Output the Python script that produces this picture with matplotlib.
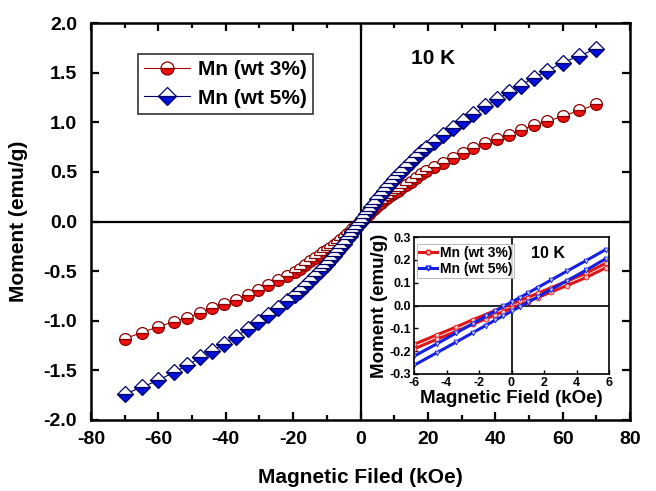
import numpy as np
import matplotlib
matplotlib.use("Agg")
import matplotlib.pyplot as plt
from matplotlib.ticker import MultipleLocator, FormatStrFormatter

plt.rcParams['font.family'] = ['Liberation Sans', 'DejaVu Sans']
plt.rcParams['font.weight'] = 'bold'
plt.rcParams['axes.unicode_minus'] = False

# main M-H curves at 10 K (field in kOe, moment in emu/g), positive half
h_pos = [0, 0.8, 1.6, 2.4, 3.2, 4, 5, 6, 7, 8, 9, 10, 11, 12, 13.5, 15,
         16.5, 18, 19.5, 21.8, 24.5, 27.4, 30.4, 33.4, 37, 40.5, 44, 47.5,
         51.5, 55.5, 60, 65, 70]
m_mn3 = [0, 0.03, 0.055, 0.08, 0.105, 0.13, 0.16, 0.19, 0.215, 0.24, 0.265,
         0.29, 0.31, 0.335, 0.37, 0.40, 0.44, 0.475, 0.505, 0.55, 0.59, 0.64,
         0.69, 0.74, 0.79, 0.83, 0.87, 0.92, 0.97, 1.01, 1.06, 1.12, 1.18]
m_mn5 = [0, 0.04, 0.075, 0.11, 0.145, 0.18, 0.225, 0.265, 0.31, 0.35, 0.39,
         0.43, 0.465, 0.50, 0.55, 0.60, 0.65, 0.70, 0.74, 0.80, 0.87, 0.94,
         1.01, 1.08, 1.16, 1.23, 1.30, 1.37, 1.45, 1.52, 1.60, 1.67, 1.74]

h_main = [-v for v in h_pos[::-1]] + h_pos[1:]
m3_main = [-v for v in m_mn3[::-1]] + m_mn3[1:]
m5_main = [-v for v in m_mn5[::-1]] + m_mn5[1:]

# inset low-field loops (two branches each)
h_low = [-6, -4.6, -3.4, -2.4, -1.6, -1, -0.5, 0, 0.5, 1, 1.6, 2.4, 3.4, 4.6, 5.8]
m3_up = [-0.170, -0.129, -0.094, -0.063, -0.040, -0.022, -0.008, 0.007,
         0.021, 0.035, 0.053, 0.077, 0.106, 0.142, 0.185]
m3_dn = [-0.190, -0.148, -0.113, -0.083, -0.059, -0.041, -0.027, -0.012,
         0.002, 0.017, 0.034, 0.058, 0.087, 0.123, 0.165]
m5_up = [-0.222, -0.168, -0.120, -0.080, -0.048, -0.024, -0.004, 0.015,
         0.034, 0.054, 0.078, 0.110, 0.150, 0.197, 0.245]
m5_dn = [-0.262, -0.207, -0.160, -0.120, -0.088, -0.064, -0.045, -0.025,
         -0.006, 0.014, 0.037, 0.069, 0.108, 0.155, 0.205]

labels = ['Mn (wt 3%)', 'Mn (wt 5%)']

fig = plt.figure(figsize=(6.56, 4.91), dpi=100)
ax = fig.add_axes([91/656, 1-420/491, 539/656, 397/491])

ax.axhline(0, color='black', lw=1.6, zorder=1)
ax.axvline(0, color='black', lw=1.6, zorder=1)

ax.plot(h_main, m3_main, '-', color='#aa0000', lw=0.8, marker='o', ms=8.5,
        mfc='#ee1111', mfcalt='white', fillstyle='bottom', mec='#880000',
        mew=0.9, label=labels[0], zorder=3)
ax.plot(h_main, m5_main, '-', color='#000066', lw=0.8, marker='D', ms=8,
        mfc='#0010dd', mfcalt='white', fillstyle='bottom', mec='#000066',
        mew=0.9, label=labels[1], zorder=3)

ax.set_xlim(-80, 80)
ax.set_ylim(-2.0, 2.0)
ax.xaxis.set_major_locator(MultipleLocator(20))
ax.xaxis.set_minor_locator(MultipleLocator(10))
ax.yaxis.set_major_locator(MultipleLocator(0.5))
ax.yaxis.set_major_formatter(FormatStrFormatter('%.1f'))
ax.tick_params(which='both', direction='in', top=True, right=True, width=1.6)
ax.tick_params(which='major', length=6, labelsize=14)
ax.tick_params(axis='x', which='major', pad=8)
ax.tick_params(axis='y', which='major', pad=10)
ax.tick_params(which='minor', length=3.5)
for s in ax.spines.values():
    s.set_linewidth(1.8)
ax.set_xlabel('Magnetic Filed (kOe)', fontsize=15, fontweight='bold', labelpad=14)
ax.set_ylabel('Moment (emu/g)', fontsize=15, fontweight='bold', labelpad=11)

leg = ax.legend(loc='upper left', bbox_to_anchor=(0.087, 0.922), fontsize=15,
                frameon=True, fancybox=False, edgecolor='black',
                handlelength=2.2, borderpad=0.3, labelspacing=0.45,
                handletextpad=0.4, borderaxespad=0, markerscale=1.1)
leg.get_frame().set_linewidth(1.2)
ax.text(0.593, 0.91, '10 K', transform=ax.transAxes, fontsize=15,
        fontweight='bold', ha='left', va='center')

# inset
ins = fig.add_axes([414/656, 1-374/491, 195/656, 137/491])
ins.axhline(0, color='black', lw=1.2, zorder=1)
ins.axvline(0, color='black', lw=1.2, zorder=1)
for m in (m3_up, m3_dn):
    ins.plot(h_low, m, '-', color='#e01515', lw=2.2, marker='o', ms=3.5,
             mfc='#f4c0c0', mec='#e01515', mew=0.6)
for m in (m5_up, m5_dn):
    ins.plot(h_low, m, '-', color='#1520e0', lw=2.2, marker='v', ms=3.5,
             mfc='#c8c8f4', mec='#1520e0', mew=0.6)
ins.plot([], [], '-', color='#e01515', lw=2.2, marker='o', ms=3.5,
         mfc='#f4c0c0', mec='#e01515', label=labels[0])
ins.plot([], [], '-', color='#1520e0', lw=2.2, marker='v', ms=3.5,
         mfc='#c8c8f4', mec='#1520e0', label=labels[1])
ins.set_xlim(-6, 6)
ins.set_ylim(-0.3, 0.3)
ins.xaxis.set_major_locator(MultipleLocator(2))
ins.yaxis.set_major_locator(MultipleLocator(0.1))
ins.yaxis.set_major_formatter(FormatStrFormatter('%.1f'))
ins.tick_params(direction='in', length=3, width=1, labelsize=9, pad=2)
for s in ins.spines.values():
    s.set_linewidth(1.2)
ins.set_xlabel('Magnetic Field (kOe)', fontsize=13.5, fontweight='bold', labelpad=1)
ins.set_ylabel('Moment (emu/g)', fontsize=13.5, fontweight='bold', labelpad=1)
il = ins.legend(loc='upper left', bbox_to_anchor=(0.015, 0.95), fontsize=10,
                frameon=True, fancybox=False, edgecolor='#999999',
                handlelength=1.3, borderpad=0.15, labelspacing=0.15,
                handletextpad=0.2, borderaxespad=0)
il.get_frame().set_linewidth(0.6)
ins.text(0.6, 0.88, '10 K', transform=ins.transAxes, fontsize=11.5,
         fontweight='bold', ha='left', va='center')

fig.savefig('out.png', dpi=100)
